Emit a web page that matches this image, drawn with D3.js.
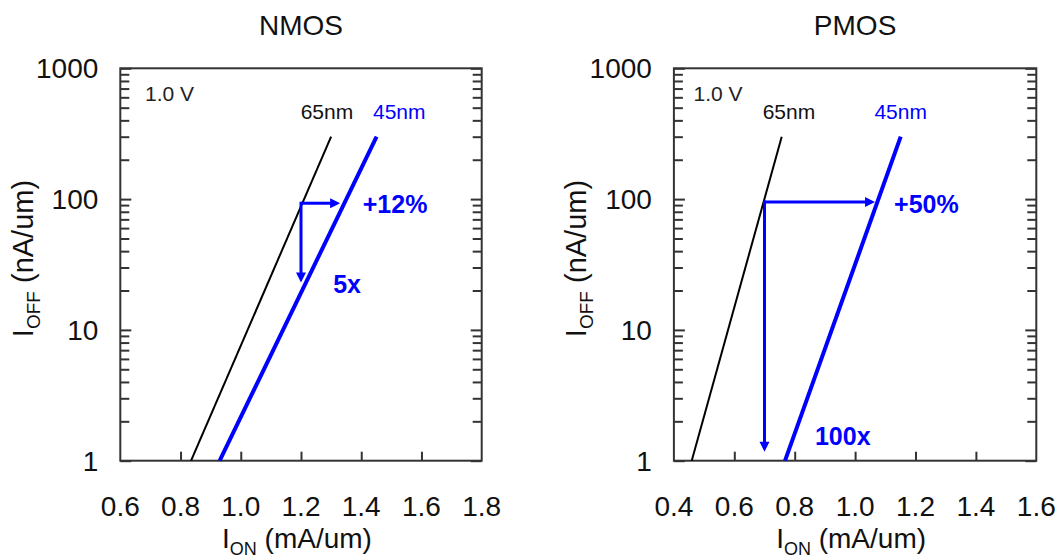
<!DOCTYPE html>
<html>
<head>
<meta charset="utf-8">
<script src="https://cdn.jsdelivr.net/npm/d3@7/dist/d3.min.js"></script>
<style>
  html, body { margin: 0; padding: 0; background: #fff; }
  svg { display: block; font-family: "Liberation Sans", Arial, sans-serif; }
</style>
</head>
<body>
<svg id="chart" width="1061" height="559"></svg>
<script>
// ---- data ----
const panelTitles = ["NMOS", "PMOS"];
const xDomains = [[0.6, 1.8], [0.4, 1.6]];
const xTickValues = [[0.6, 0.8, 1.0, 1.2, 1.4, 1.6, 1.8], [0.4, 0.6, 0.8, 1.0, 1.2, 1.4, 1.6]];
const yDomain = [1, 1000];
const yTickValues = [1, 10, 100, 1000];
const yMinorTicks = [2,3,4,5,6,7,8,9,20,30,40,50,60,70,80,90,200,300,400,500,600,700,800,900];

// curves: [Ion (mA/um), Ioff (nA/um)]
const nmos65 = [[0.835, 1], [1.30, 300]];
const nmos45 = [[0.930, 1], [1.451, 300]];
const pmos65 = [[0.459, 1], [0.757, 300]];
const pmos45 = [[0.768, 1], [1.151, 300]];

// arrows: start point, horizontal tip Ion, vertical tip Ioff
const nmosArrow = { start: [1.2, 93], rightTo: 1.33, downTo: 23 };
const pmosArrow = { start: [0.7, 95], rightTo: 1.066, downTo: 1.17 };

// annotation texts (left edge / baseline in data units)
const nmosLabels = [
  { text: "1.0 V", at: [0.682, 562], color: "#222", size: 21, weight: "normal" },
  { text: "65nm", at: [1.199, 412], color: "#111", size: 21, weight: "normal" },
  { text: "45nm", at: [1.439, 412], color: "#0000ff", size: 21, weight: "normal" },
  { text: "+12%", at: [1.405, 78], color: "#0000ff", size: 25, weight: "bold" },
  { text: "5x", at: [1.307, 19], color: "#0000ff", size: 25, weight: "bold" }
];
const pmosLabels = [
  { text: "1.0 V", at: [0.465, 562], color: "#222", size: 21, weight: "normal" },
  { text: "65nm", at: [0.694, 412], color: "#111", size: 21, weight: "normal" },
  { text: "45nm", at: [1.064, 412], color: "#0000ff", size: 21, weight: "normal" },
  { text: "+50%", at: [1.129, 78], color: "#0000ff", size: 25, weight: "bold" },
  { text: "100x", at: [0.867, 1.32], color: "#0000ff", size: 25, weight: "bold" }
];

const panels = [
  { title: panelTitles[0], xd: xDomains[0], xt: xTickValues[0], c65: nmos65, c45: nmos45, arrow: nmosArrow, labels: nmosLabels, left: 120.3, right: 481.7, yLabelX: 33 },
  { title: panelTitles[1], xd: xDomains[1], xt: xTickValues[1], c65: pmos65, c45: pmos45, arrow: pmosArrow, labels: pmosLabels, left: 673.9, right: 1036.3, yLabelX: 586 }
];

const plotTop = 68.3, plotBottom = 460.7;
const svg = d3.select("#chart");
const blue = "#0000ff";
const frameColor = "#333";

panels.forEach(p => {
  const x = d3.scaleLinear().domain(p.xd).range([p.left, p.right]);
  const y = d3.scaleLog().domain(yDomain).range([plotBottom, plotTop]);
  const g = svg.append("g");

  // title
  g.append("text").attr("x", (p.left + p.right) / 2).attr("y", 35)
    .attr("text-anchor", "middle").attr("font-size", 28).attr("fill", "#111").text(p.title);

  // y ticks left & right (inward)
  const yAxL = d3.axisLeft(y).tickValues(yTickValues).tickSize(-11).tickFormat("");
  const yAxR = d3.axisRight(y).tickValues(yTickValues).tickSize(-11).tickFormat("");
  const yAxLm = d3.axisLeft(y).tickValues(yMinorTicks).tickSize(-9).tickFormat("");
  const yAxRm = d3.axisRight(y).tickValues(yMinorTicks).tickSize(-9).tickFormat("");
  [[yAxL, p.left], [yAxLm, p.left], [yAxR, p.right], [yAxRm, p.right]].forEach(([ax, px]) => {
    const a = g.append("g").attr("transform", `translate(${px},0)`).call(ax);
    a.select(".domain").remove();
    a.selectAll("line").attr("stroke", frameColor).attr("stroke-width", 2);
  });

  // x ticks bottom (inward), interior only
  const xAx = d3.axisBottom(x).tickValues(p.xt.slice(1, -1)).tickSize(-9).tickFormat("");
  const xa = g.append("g").attr("transform", `translate(0,${plotBottom})`).call(xAx);
  xa.select(".domain").remove();
  xa.selectAll("line").attr("stroke", frameColor).attr("stroke-width", 2);

  // tick labels
  g.selectAll(".ylab").data(yTickValues).enter().append("text")
    .attr("x", p.left - 22).attr("y", d => y(d)).attr("dy", "0.36em")
    .attr("text-anchor", "end").attr("font-size", 28).attr("fill", "#111").text(d => d);
  g.selectAll(".xlab").data(p.xt).enter().append("text")
    .attr("x", d => x(d)).attr("y", 516)
    .attr("text-anchor", "middle").attr("font-size", 28).attr("fill", "#111").text(d3.format(".1f"));

  // frame
  g.append("rect").attr("x", p.left).attr("y", plotTop).attr("width", p.right - p.left).attr("height", plotBottom - plotTop)
    .attr("fill", "none").attr("stroke", frameColor).attr("stroke-width", 2);

  // axis titles
  const xt = g.append("text").attr("x", (p.left + p.right) / 2 - 4).attr("y", 548)
    .attr("text-anchor", "middle").attr("font-size", 28).attr("fill", "#111");
  xt.append("tspan").text("I");
  xt.append("tspan").attr("font-size", 18).attr("dy", 7).text("ON");
  xt.append("tspan").attr("dy", -7).text(" (mA/um)");

  const yt = g.append("text").attr("transform", `translate(${p.yLabelX},${(plotTop + plotBottom) / 2 - 6}) rotate(-90)`)
    .attr("text-anchor", "middle").attr("font-size", 29).attr("fill", "#111");
  yt.append("tspan").text("I");
  yt.append("tspan").attr("font-size", 19).attr("dy", 7).text("OFF");
  yt.append("tspan").attr("dy", -7).text(" (nA/um)");

  // curves
  const line = d3.line().x(d => x(d[0])).y(d => y(d[1]));
  g.append("path").attr("d", line(p.c65)).attr("fill", "none").attr("stroke", "#000").attr("stroke-width", 2);
  g.append("path").attr("d", line(p.c45)).attr("fill", "none").attr("stroke", blue).attr("stroke-width", 4);

  // arrows
  const sx = x(p.arrow.start[0]), sy = y(p.arrow.start[1]);
  const hx = x(p.arrow.rightTo), vy = y(p.arrow.downTo);
  const headL = 10, headW = 5;
  g.append("line").attr("x1", sx).attr("y1", sy).attr("x2", hx - headL + 1).attr("y2", sy)
    .attr("stroke", blue).attr("stroke-width", 3);
  g.append("path").attr("d", `M${hx},${sy}L${hx - headL},${sy - headW}L${hx - headL},${sy + headW}Z`).attr("fill", blue);
  g.append("line").attr("x1", sx).attr("y1", sy - 1.5).attr("x2", sx).attr("y2", vy - headL + 1)
    .attr("stroke", blue).attr("stroke-width", 3);
  g.append("path").attr("d", `M${sx},${vy}L${sx - headW},${vy - headL}L${sx + headW},${vy - headL}Z`).attr("fill", blue);

  // annotation labels
  p.labels.forEach(l => {
    g.append("text").attr("x", x(l.at[0])).attr("y", y(l.at[1]))
      .attr("text-anchor", "start").attr("font-size", l.size).attr("font-weight", l.weight)
      .attr("fill", l.color).text(l.text);
  });
});
</script>
</body>
</html>
